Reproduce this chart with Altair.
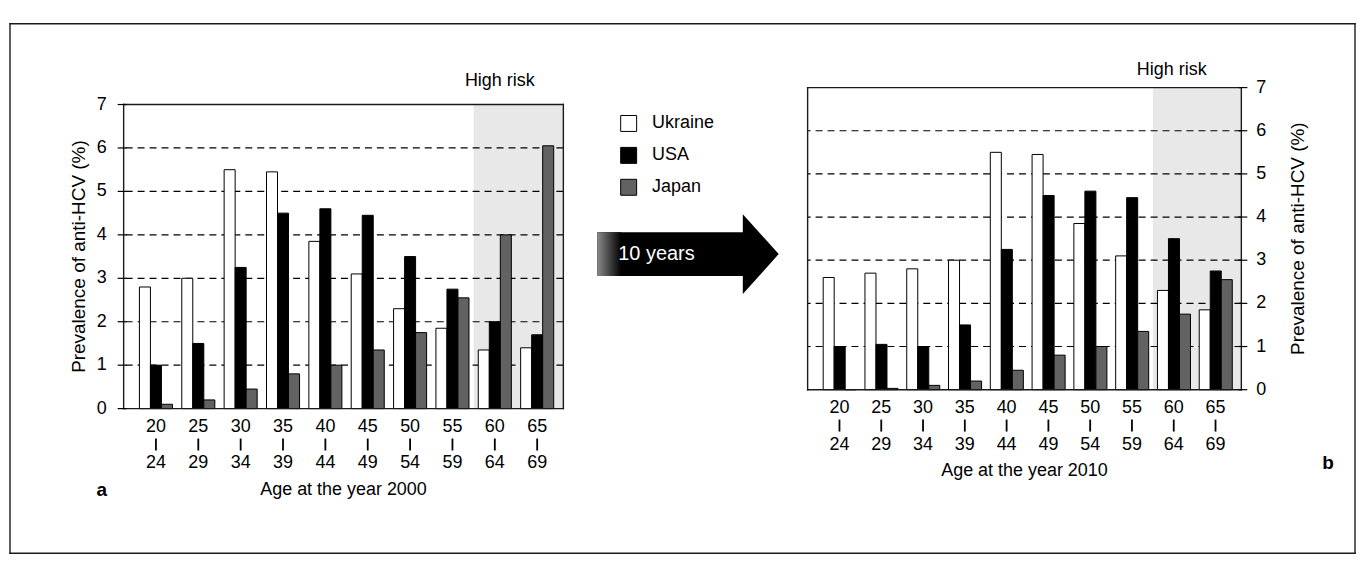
import altair as alt
import pandas as pd

# ---------------- data ----------------
ages = ["20-24", "25-29", "30-34", "35-39", "40-44", "45-49", "50-54", "55-59", "60-64", "65-69"]
countries = ["Ukraine", "USA", "Japan"]
colors = ["#ffffff", "#000000", "#626262"]

ukraine_2000 = [2.8, 3.0, 5.5, 5.45, 3.85, 3.1, 2.3, 1.85, 1.35, 1.4]
usa_2000 = [1.0, 1.5, 3.25, 4.5, 4.6, 4.45, 3.5, 2.75, 2.0, 1.7]
japan_2000 = [0.1, 0.2, 0.45, 0.8, 1.0, 1.35, 1.75, 2.55, 4.0, 6.05]

ukraine_2010 = [2.6, 2.7, 2.8, 3.0, 5.5, 5.45, 3.85, 3.1, 2.3, 1.85]
usa_2010 = [1.0, 1.05, 1.0, 1.5, 3.25, 4.5, 4.6, 4.45, 3.5, 2.75]
japan_2010 = [0.0, 0.03, 0.1, 0.2, 0.45, 0.8, 1.0, 1.35, 1.75, 2.55]

grid_values = [1, 2, 3, 4, 5, 6]
y_ticks = [0, 1, 2, 3, 4, 5, 6, 7]
high_risk_start = "60-64"
high_risk_label = "High risk"
arrow_label = "10 years"
x_title_2000 = "Age at the year 2000"
x_title_2010 = "Age at the year 2010"
y_title = "Prevalence of anti-HCV (%)"

FONT = "Liberation Sans"


def long_df(u, s, j):
    rows = []
    for i, a in enumerate(ages):
        for c, vals in zip(countries, [u, s, j]):
            rows.append({"age": a, "country": c, "value": vals[i]})
    return pd.DataFrame(rows)


df2000 = long_df(ukraine_2000, usa_2000, japan_2000)
df2010 = long_df(ukraine_2010, usa_2010, japan_2010)
one = pd.DataFrame({"age": [high_risk_start], "label": [high_risk_label]})
lab_df = pd.DataFrame({"age": ages, "lo": [a.split("-")[0] for a in ages],
                       "hi": [a.split("-")[1] for a in ages]})
tick_df = pd.DataFrame({"t": y_ticks})
fill_scale = alt.Scale(domain=countries, range=colors)

FRAME_TOP = -64
FRAME_BOTTOM = 467


def rule(x, x2, y, y2, color="#1a1a1a", width=1.4):
    return alt.Chart(one).mark_rule(color=color, strokeWidth=width, strokeCap="square").encode(
        x=alt.value(x), x2=alt.value(x2), y=alt.value(y), y2=alt.value(y2)
    )


def bar_panel(df, W, H, top, x_title, y_side, risk_y, risk_dx, letter, letter_xy):
    xs = alt.Scale(domain=ages, paddingInner=0.22, paddingOuter=0.3, align=0.62)
    ys = alt.Scale(domain=[0, 7], range=[H, top], nice=False, zero=True)

    shade = alt.Chart(one).mark_rect(color="#e8e8e8", xOffset=-4.6).encode(
        x=alt.X("age:N", scale=xs, axis=None, bandPosition=0),
        x2=alt.value(W),
        y=alt.value(top),
        y2=alt.value(H),
    )
    grid = alt.Chart(pd.DataFrame({"v": grid_values})).mark_rule(
        color="#000", strokeWidth=1.2, strokeDash=[7, 5]
    ).encode(y=alt.Y("v:Q", scale=ys, axis=None))
    bars = alt.Chart(df).mark_bar(stroke="#000", strokeWidth=1).encode(
        x=alt.X("age:N", scale=xs, axis=None),
        xOffset=alt.XOffset("country:N", sort=countries,
                            scale=alt.Scale(domain=countries, paddingInner=0, paddingOuter=0)),
        y=alt.Y("value:Q", scale=ys, axis=None),
        fill=alt.Fill("country:N", scale=fill_scale, legend=None),
    )
    # category labels: "20", a short bar, "24"
    labels = []
    for field, dy in (("lo", 18), ("hi", 55)):
        labels.append(
            alt.Chart(lab_df).mark_text(fontSize=18, color="#000", align="center", baseline="middle").encode(
                x=alt.X("age:N", scale=xs, axis=None),
                y=alt.value(H + dy),
                text=f"{field}:N",
            )
        )
    seps = alt.Chart(lab_df).mark_rule(color="#000", strokeWidth=1.8).encode(
        x=alt.X("age:N", scale=xs, axis=None),
        y=alt.value(H + 30),
        y2=alt.value(H + 42),
    )
    xtitle = alt.Chart(one).mark_text(fontSize=18, color="#000", align="center", baseline="middle").encode(
        x=alt.value(W / 2), y=alt.value(H + 82), text=alt.value(x_title)
    )
    # value axis drawn with marks
    if y_side == "left":
        t0, t1, lab_x, lab_align, title_x = -6, 3, -17, "right", -45
    else:
        t0, t1, lab_x, lab_align, title_x = W - 3, W + 6, W + 15, "left", W + 57
    ticks = alt.Chart(tick_df).mark_rule(color="#000", strokeWidth=1.2).encode(
        y=alt.Y("t:Q", scale=ys, axis=None), x=alt.value(t0), x2=alt.value(t1)
    )
    tick_labels = alt.Chart(tick_df).mark_text(fontSize=18, color="#000", align=lab_align,
                                               baseline="middle").encode(
        y=alt.Y("t:Q", scale=ys, axis=None), x=alt.value(lab_x), text="t:Q"
    )
    ytitle = alt.Chart(one).mark_text(fontSize=19, color="#000", align="center", baseline="middle",
                                      angle=270).encode(
        x=alt.value(title_x), y=alt.value((top + H) / 2), text=alt.value(y_title)
    )
    risk = alt.Chart(one).mark_text(fontSize=18, color="#000", align="center", baseline="middle",
                                    dx=risk_dx).encode(
        x=alt.X("age:N", scale=xs, axis=None),
        y=alt.value(risk_y),
        text="label:N",
    )
    let = alt.Chart(one).mark_text(fontSize=19, fontWeight="bold", color="#000", align="center",
                                   baseline="middle").encode(
        x=alt.value(letter_xy[0]), y=alt.value(letter_xy[1]), text=alt.value(letter)
    )
    box = [rule(0, W, top, top), rule(0, W, H, H), rule(0, 0, top, H), rule(W, W, top, H)]
    layers = [shade, grid, bars] + box + [ticks, tick_labels, ytitle, seps] + labels + [xtitle, risk, let]
    return layers


# left panel: plot x 122..563, y 103..408 ; all panels share origin y = 86
left_layers = bar_panel(df2000, 441, 322, 17, x_title_2000, "left", -7, 5, "a", (-22, 404))
# outer frame of the whole figure (x 8..1357, y 22..553), drawn from the left panel origin
left_layers += [
    rule(-114, 1235, FRAME_TOP, FRAME_TOP),
    rule(-114, 1235, FRAME_BOTTOM, FRAME_BOTTOM),
    rule(-114, -114, FRAME_TOP, FRAME_BOTTOM),
    rule(1235, 1235, FRAME_TOP, FRAME_BOTTOM),
]
left = alt.layer(*left_layers).properties(width=441, height=322)

# right panel: plot x 808..1243, y 86..389
right = alt.layer(*bar_panel(df2010, 435, 303, 0, x_title_2010, "right", -18, -2, "b", (522, 377))).properties(
    width=435, height=303
)

# ---------------- middle: legend and arrow (origin x = 563) ----------------
leg_df = pd.DataFrame({"country": countries})
ly = alt.Scale(domain=countries, range=[36, 100], padding=0)
swatch = alt.Chart(leg_df).mark_square(size=256, stroke="#000", strokeWidth=1, opacity=1).encode(
    x=alt.value(65.5),
    y=alt.Y("country:N", scale=ly, axis=None, sort=countries),
    fill=alt.Fill("country:N", scale=fill_scale, legend=None),
)
leg_text = alt.Chart(leg_df).mark_text(fontSize=18, align="left", baseline="middle", color="#000").encode(
    x=alt.value(89),
    y=alt.Y("country:N", scale=ly, axis=None, sort=countries),
    text="country:N",
)
arrow_body = alt.Chart(one).mark_rect(color="#000").encode(
    x=alt.value(34), x2=alt.value(185), y=alt.value(145), y2=alt.value(189)
)
arrow_fade = alt.Chart(one).mark_rect(
    fill=alt.Gradient(gradient="linear", x1=0, x2=1, y1=0, y2=0,
                      stops=[alt.GradientStop(color="#8a8a8a", offset=0),
                             alt.GradientStop(color="#000000", offset=1)])
).encode(x=alt.value(34), x2=alt.value(58), y=alt.value(145), y2=alt.value(189))
arrow_head = alt.Chart(one).mark_point(
    shape="M-0.45,-1L0.45,0L-0.45,1Z", size=6400, filled=True, color="#000", opacity=1, strokeWidth=0
).encode(x=alt.value(198), y=alt.value(167))
arrow_text = alt.Chart(one).mark_text(fontSize=20, color="#fff", align="left", baseline="middle").encode(
    x=alt.value(55), y=alt.value(167), text=alt.value(arrow_label)
)
middle = alt.layer(
    swatch, leg_text, arrow_body, arrow_fade, arrow_head, arrow_text,
).properties(width=245, height=303)

chart = alt.hconcat(
    left, middle, right, spacing=0, bounds="flush",
    padding={"top": 13, "left": 0, "right": 0, "bottom": 0},
).configure(font=FONT).configure_view(stroke="transparent")

chart.save("out.html", embed_options={"renderer": "svg", "actions": False})
